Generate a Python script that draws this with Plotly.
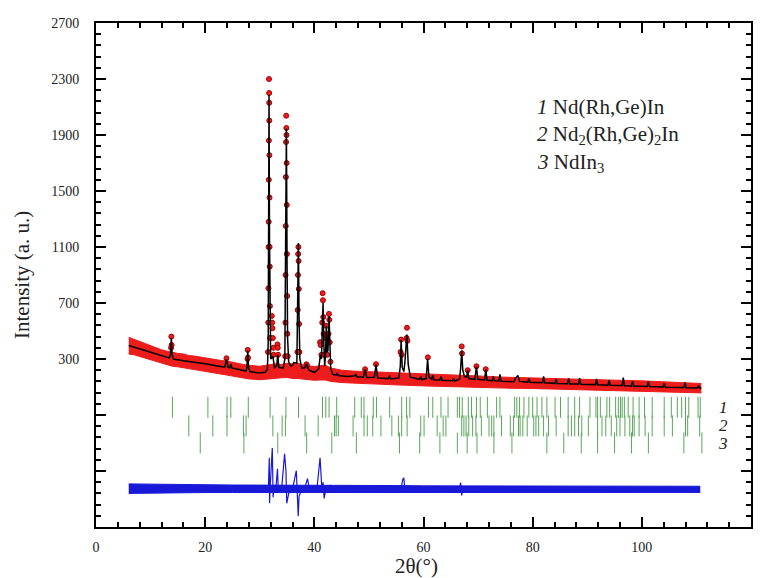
import plotly.graph_objects as go

# ---------------- data ----------------
# calculated profile (black line): 2theta, intensity
calc_x = [6.0, 8.0, 10.0, 12.0, 13.4, 13.65, 13.8, 13.95, 14.2, 16.0, 18.0, 20.0, 22.0, 23.6, 23.9, 24.2,
          24.5, 24.7, 24.9, 26.0, 27.5, 27.65, 27.8, 27.95, 28.2, 30.0, 31.0, 31.4, 31.55, 31.62, 31.70,
          31.78, 31.85, 32.0, 32.4, 32.7, 33.1, 33.3, 33.5, 34.3, 34.6, 34.75, 34.88, 35.0, 35.1, 35.3,
          35.7, 36.0, 36.2, 36.8, 36.95, 37.08, 37.2, 37.35, 37.7, 38.2, 38.6, 39.0, 40.0, 40.8, 41.1,
          41.3, 41.45, 41.6, 41.75, 41.9, 42.05, 42.2, 42.35, 42.5, 42.7, 42.85, 43.0, 43.4, 44.0, 44.2,
          44.4, 46.0, 47.4, 47.6, 47.8, 49.0, 49.3, 49.6, 51.0, 51.3, 51.6, 53.6, 53.8, 54.0, 55.5,
          55.75, 55.9, 56.1, 56.4, 56.6, 56.95, 57.2, 57.6, 59.3, 59.5, 59.7, 60.5, 60.75, 61.0, 61.5,
          61.7, 61.9, 63.0, 63.2, 63.4, 65.3, 65.5, 65.7, 66.6, 66.8, 67.0, 67.2, 67.5, 67.9, 68.1,
          68.3, 69.4, 69.7, 69.95, 71.2, 71.4, 71.65, 72.6, 72.8, 73.0, 73.8, 74.0, 74.2, 76.6, 76.8,
          77.3, 77.6, 79.1, 79.3, 79.5, 81.8, 82.0, 82.2, 84.1, 84.3, 84.5, 86.4, 86.6, 86.8, 88.4,
          88.6, 88.8, 91.5, 91.7, 91.9, 93.8, 94.0, 94.2, 96.4, 96.6, 96.8, 98.1, 98.3, 98.5, 101.0,
          101.2, 101.4, 103.9, 104.1, 104.3, 107.7, 107.9, 108.1, 110.2, 110.4, 110.6, 110.9]
calc_y = [396, 372, 348, 322, 308, 330, 450, 330, 300, 288, 278, 266, 252, 242, 298, 240,
          238, 262, 236, 226, 214, 240, 358, 240, 210, 200, 205, 225, 420, 1200, 2185,
          1200, 500, 300, 320, 240, 250, 330, 240, 235, 300, 1000, 1946, 1000, 450, 280,
          250, 255, 275, 270, 600, 1129, 600, 300, 235, 235, 262, 220, 205, 230, 330,
          300, 500, 700, 400, 250, 330, 537, 350, 360, 605, 380, 230, 190, 185, 200,
          182, 175, 180, 192, 172, 172, 225, 168, 170, 260, 165, 160, 180, 158, 165,
          250, 435, 240, 210, 280, 474, 260, 170, 155, 175, 153, 160, 300, 170, 155,
          185, 152, 150, 175, 148, 145, 160, 143, 155, 230, 360, 220, 175, 170, 218,
          160, 155, 245, 155, 150, 225, 148, 145, 175, 144, 143, 190, 141, 138, 160,
          183, 140, 135, 160, 134, 130, 176, 130, 126, 155, 125, 123, 162, 122, 121,
          163, 120, 117, 158, 116, 113, 148, 112, 110, 168, 109, 108, 140, 107, 104,
          140, 103, 100, 125, 99, 96, 133, 95, 93, 110, 92, 91]

# observed intensity: noise band envelope
band_x = [6.0, 7, 8, 9, 10, 11, 12, 13, 14, 15, 16, 17, 18, 19, 20, 21, 22, 23, 24, 25, 26, 27, 28, 29,
          30, 31, 32, 33, 34, 35, 36, 37, 38, 39, 40, 41, 42, 43, 44, 45, 47, 50, 53, 55, 57, 60, 63,
          66, 70, 75, 80, 85, 90, 95, 100, 105, 110.9]
band_lo = [335, 330, 318, 306, 294, 282, 268, 256, 248, 244, 238, 231, 225, 219, 214, 206, 200, 191,
           185, 178, 171, 163, 158, 155, 152, 155, 160, 164, 166, 168, 161, 160, 155, 150, 148, 150,
           150, 140, 135, 132, 128, 122, 118, 115, 112, 108, 104, 100, 97, 92, 89, 84, 80, 76, 72, 66, 58]
band_hi = [455, 440, 426, 410, 396, 376, 366, 356, 346, 340, 336, 325, 321, 314, 310, 300, 296, 289,
           285, 276, 268, 261, 255, 251, 248, 255, 262, 266, 260, 270, 264, 270, 258, 250, 246, 252,
           256, 236, 226, 220, 214, 210, 204, 202, 200, 194, 189, 185, 179, 170, 166, 160, 155, 149,
           144, 137, 125]

# observed points on the Bragg peaks
obs_pk_x = [13.75, 13.8, 13.85, 23.9, 27.75, 27.8, 27.85,
            31.52, 31.56, 31.59, 31.62, 31.64, 31.66, 31.68, 31.70, 31.72, 31.735, 31.75, 31.77, 31.79,
            31.81, 31.83, 31.86, 31.9, 32.2, 32.27, 32.33, 32.4, 32.48, 32.55, 33.25, 33.3, 33.35,
            34.66, 34.70, 34.73, 34.76, 34.79, 34.82, 34.85, 34.875, 34.90, 34.92, 34.95, 34.98, 35.01,
            35.05, 35.12, 36.9, 36.95, 37.0, 37.04, 37.08, 37.12, 37.16, 37.2, 37.26, 38.55, 38.65,
            41.05, 41.15, 41.3, 41.45, 41.52, 41.58, 41.64, 41.7, 41.8, 42.1, 42.18, 42.25, 42.35,
            42.6, 42.68, 42.74, 42.82, 42.95, 49.3, 51.3, 55.8, 55.9, 56.0, 56.9, 56.97, 57.05,
            60.8, 67.0, 67.05, 68.1, 69.7, 71.4]
obs_pk_y = [380, 460, 400, 305, 300, 365, 310,
            350, 560, 805, 1100, 1280, 1580, 1860, 2300, 2200, 2130, 2003, 1756, 1453,
            1101, 960, 678, 450, 608, 560, 520, 450, 380, 330, 404, 380, 330,
            320, 560, 900, 1250, 1600, 1850, 2038, 1950, 1900, 1700, 1400, 1050, 750,
            480, 320, 350, 650, 900, 1050, 1100, 1000, 800, 550, 350, 262, 255,
            420, 400, 330, 560, 770, 720, 600, 480, 330, 450, 537, 470, 330,
            480, 622, 580, 420, 280, 227, 263, 350, 439, 330, 450, 523, 430,
            312, 390, 340, 220, 248, 227]

# difference curve: noise band envelope and the spikes
diff_x = [6.0, 10, 15, 20, 25, 30, 35, 40, 45, 50, 55, 60, 65, 70, 80, 90, 100, 110.7]
diff_lo = [-660, -657, -655, -654, -654, -654, -654, -654, -655, -653, -653, -653, -653, -651, -651, -651, -651, -653]
diff_hi = [-592, -595, -597, -598, -600, -600, -602, -602, -604, -604, -604, -606, -606, -606, -606, -608, -608, -609]
spike_x = [31.3, 31.6, 31.75, 31.8, 31.9, 32.3, 32.45, 32.6, 33.0, 33.25, 33.4, 34.0, 34.55, 34.8, 34.95,
           35.3, 36.0, 36.7, 37.05, 37.2, 37.6, 38.4, 38.75, 39.0, 40.5, 41.05, 41.2, 41.4, 41.6, 41.8,
           42.2, 42.6, 42.9, 43.2, 43.6, 55.9, 56.2, 56.4, 56.6, 66.6, 66.8, 67.0, 67.2]
spike_y = [-625, -600, -405, -731, -620, -335, -688, -610, -600, -484, -650, -630, -378, -500, -731,
           -660, -630, -498, -823, -680, -640, -600, -554, -610, -620, -405, -511, -640, -580, -696,
           -610, -640, -600, -640, -625, -625, -560, -548, -640, -625, -583, -675, -625]

# Bragg reflection positions of the three phases
ticks1 = [14.0, 20.5, 24.0, 24.7, 27.9, 31.9, 34.8, 37.1, 41.5, 42.1, 42.7, 44.1, 47.4, 48.6, 49.1, 50.8,
          51.4, 53.8, 56.0, 56.9, 57.5, 60.9, 61.7, 63.2, 64.5, 66.2, 66.6, 67.1, 68.2, 68.8, 69.7, 70.4,
          71.7, 73.4, 74.0, 76.7, 77.1, 77.6, 78.4, 79.3, 80.0, 80.8, 81.7, 82.6, 84.1, 85.1, 86.5, 87.7,
          88.6, 90.5, 91.6, 91.9, 92.4, 93.6, 94.1, 95.2, 95.7, 96.1, 96.4, 96.8, 97.5, 98.4, 99.5, 100.5,
          101.9, 104.1, 105.4, 106.5, 107.3, 108.0, 108.6, 110.3, 110.7]
ticks2 = [17.0, 21.4, 24.0, 27.0, 27.5, 32.4, 34.1, 34.7, 38.3, 40.7, 43.7, 44.0, 44.4, 47.1, 49.1, 49.7,
          50.7, 52.2, 54.2, 55.4, 56.0, 57.0, 59.5, 60.1, 62.5, 63.6, 64.1, 67.0, 67.4, 67.8, 68.3, 69.0,
          69.6, 70.6, 72.0, 72.5, 72.9, 74.3, 75.9, 76.5, 77.4, 77.7, 78.2, 79.0, 80.2, 80.6, 81.1, 82.0,
          82.9, 84.3, 86.5, 87.1, 87.7, 88.4, 89.0, 90.2, 91.9, 92.7, 93.4, 94.4, 95.4, 96.0, 96.9, 97.8,
          98.3, 98.6, 99.5, 100.6, 101.9, 104.1, 105.6, 108.0, 108.4, 110.6]
ticks3 = [19.1, 27.1, 33.3, 38.6, 43.2, 47.7, 55.6, 59.3, 63.0, 66.2, 68.0, 69.8, 72.9, 76.2, 82.6, 85.7,
          88.9, 91.9, 95.0, 98.1, 101.2, 107.7, 111.0]
tick_rows = [-45, -178, -300]          # vertical centre of each row of reflection ticks

y_tickvals = [-500, -100, 300, 700, 1100, 1500, 1900, 2300, 2700]
y_ticktext = ["", "", "300", "700", "1100", "1500", "1900", "2300", "2700"]

legend_lines = ["<i>1</i> Nd(Rh,Ge)In",
                "<i>2</i> Nd<sub>2</sub>(Rh,Ge)<sub>2</sub>In",
                "<i>3</i> NdIn<sub>3</sub>"]
legend_y = [2100, 1897, 1700]
row_labels = ["<i>1</i>", "<i>2</i>", "<i>3</i>"]

# ---------------- figure ----------------
FONT = "Liberation Serif, Times New Roman, serif"
RED = "#ec1c1c"
GREEN = "#5aa65a"
BLUE = "#1818d8"

fig = go.Figure()

# observed band
fig.add_trace(go.Scatter(x=band_x, y=band_lo, mode="lines", line=dict(color=RED, width=1),
                         hoverinfo="skip", showlegend=False))
fig.add_trace(go.Scatter(x=band_x, y=band_hi, mode="lines", line=dict(color=RED, width=1),
                         fill="tonexty", fillcolor=RED, hoverinfo="skip", showlegend=False))
# observed peak points
fig.add_trace(go.Scatter(x=obs_pk_x, y=obs_pk_y, mode="markers",
                         marker=dict(size=5, color=RED, line=dict(color="#a30000", width=1)),
                         showlegend=False))
# calculated profile
fig.add_trace(go.Scatter(x=calc_x, y=calc_y, mode="lines", line=dict(color="black", width=1.5),
                         showlegend=False))

# reflection ticks
for tk, yr in zip([ticks1, ticks2, ticks3], tick_rows):
    fig.add_trace(go.Scatter(x=tk, y=[yr] * len(tk), mode="markers",
                             marker=dict(symbol="line-ns-open", size=15, color=GREEN,
                                         line=dict(color=GREEN, width=1)),
                             showlegend=False))

# difference curve
fig.add_trace(go.Scatter(x=diff_x, y=diff_lo, mode="lines", line=dict(color=BLUE, width=1),
                         hoverinfo="skip", showlegend=False))
fig.add_trace(go.Scatter(x=diff_x, y=diff_hi, mode="lines", line=dict(color=BLUE, width=1),
                         fill="tonexty", fillcolor=BLUE, hoverinfo="skip", showlegend=False))
fig.add_trace(go.Scatter(x=spike_x, y=spike_y, mode="lines", line=dict(color=BLUE, width=1.2),
                         showlegend=False))

# phase legend
for txt, yy in zip(legend_lines, legend_y):
    fig.add_annotation(x=80.5, y=yy, xref="x", yref="y", text=txt, showarrow=False,
                       xanchor="left", yanchor="middle", font=dict(family=FONT, size=21, color="#222"))
for txt, yy in zip(row_labels, tick_rows):
    fig.add_annotation(x=114.9, y=yy, xref="x", yref="y", text=txt, showarrow=False,
                       xanchor="center", yanchor="middle", font=dict(family=FONT, size=17, color="#222"))

# axis titles
fig.add_annotation(x=-0.113, y=0.5, xref="paper", yref="paper", text="Intensity (a. u.)",
                   showarrow=False, textangle=-90, xanchor="center", yanchor="middle",
                   font=dict(family=FONT, size=21, color="#222"))
fig.add_annotation(x=0.49, y=-0.077, xref="paper", yref="paper", text="2θ(°)",
                   showarrow=False, xanchor="center", yanchor="middle",
                   font=dict(family=FONT, size=21, color="#222"))

axis_common = dict(showline=True, linecolor="black", linewidth=2, mirror="ticks", ticks="inside",
                   ticklen=10, tickwidth=2, tickcolor="black", showgrid=False, zeroline=False,
                   tickfont=dict(family=FONT, size=14, color="#222"))
fig.update_xaxes(range=[0, 120], tickmode="linear", tick0=0, dtick=20, ticklabelstandoff=6,
                 minor=dict(ticks="inside", ticklen=5, tickwidth=1.5, tickcolor="black",
                            tick0=0, dtick=4), **axis_common)
fig.update_yaxes(range=[-900, 2700], tickmode="array", tickvals=y_tickvals, ticktext=y_ticktext,
                 ticklabelstandoff=12,
                 minor=dict(ticks="inside", ticklen=5, tickwidth=1.5, tickcolor="black",
                            tickmode="linear", tick0=-900, dtick=80), **axis_common)

# the page body adds an 8 px margin, so the figure is 8 px smaller and its margins shifted
fig.update_layout(width=753, height=570, margin=dict(l=88, r=8, t=8, b=51),
                  plot_bgcolor="white", paper_bgcolor="white", showlegend=False)

fig.write_html("out.html")
